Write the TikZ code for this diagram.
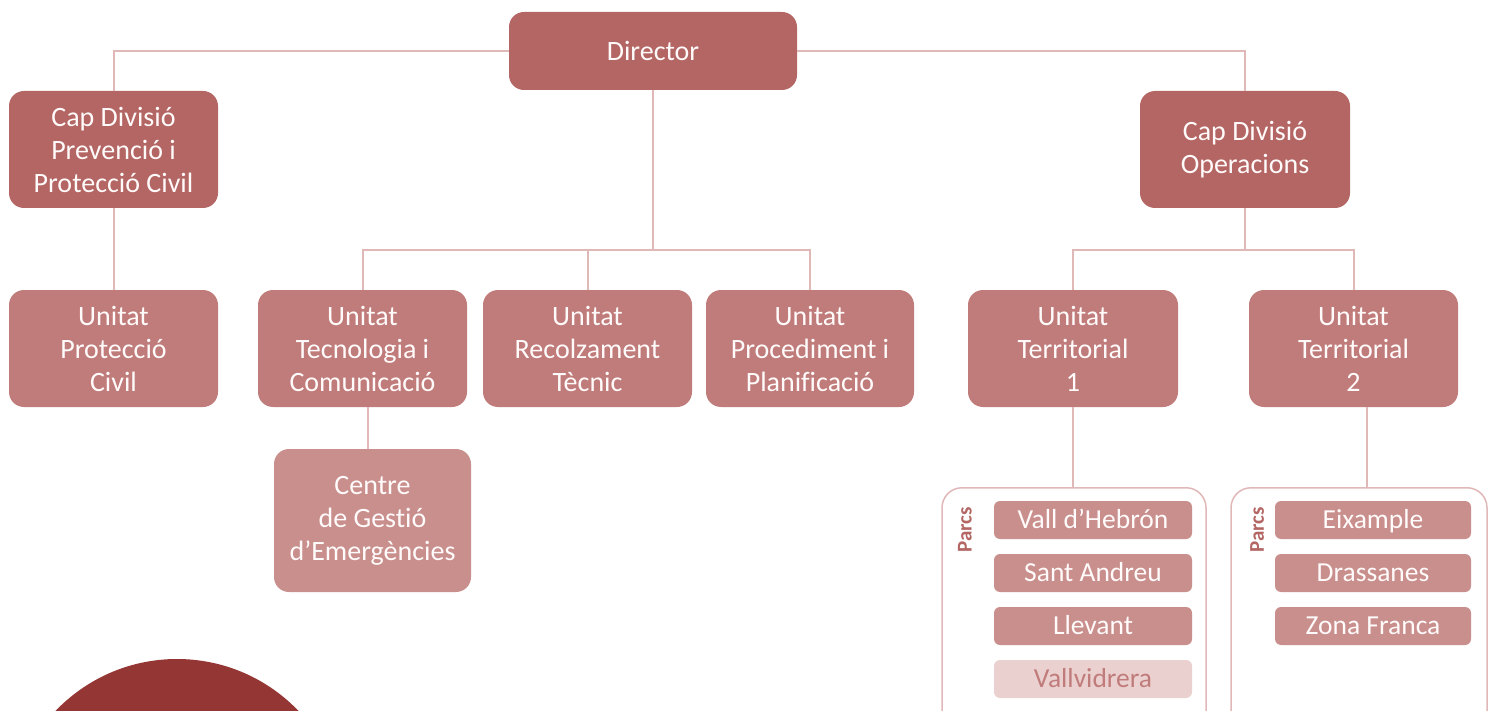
\documentclass[tikz,border=0pt]{standalone}
\usepackage{fontspec}
\setmainfont{Carlito}[Ligatures=NoCommon]
\begin{document}
\begin{tikzpicture}[x=1pt,y=-1pt,
  box/.style={rectangle, rounded corners=15pt, text=white!93!pink, align=center,
    font=\fontsize{28}{33}\selectfont, inner sep=0pt},
  topbox/.style={box, fill=capcol},
  unitbox/.style={box, fill=unitcol},
  centbox/.style={box, fill=centcol},
  parcbox/.style={rectangle, rounded corners=6pt, fill=centcol, text=white!93!pink,
    minimum height=38pt, text height=21pt, text depth=5pt,
    font=\fontsize{27.5}{30}\selectfont, inner sep=0pt},
  parcoff/.style={parcbox, fill=offcol, text=unitcol},
  cont/.style={draw=linecol, line width=1.5pt, fill=white, rounded corners=20pt},
  conn/.style={draw=linecol, line width=2pt},
  parcs/.style={rotate=90, text=capcol, font=\fontsize{21}{21}\selectfont\bfseries, inner sep=0pt}
]
\definecolor{capcol}{RGB}{179,102,99}
\definecolor{unitcol}{RGB}{192,124,122}
\definecolor{centcol}{RGB}{201,143,141}
\definecolor{offcol}{RGB}{235,208,208}
\definecolor{linecol}{RGB}{224,184,184}
\definecolor{circcol}{RGB}{148,54,52}
\useasboundingbox (0,0) rectangle (1493,711);
\clip (0,0) rectangle (1493,711);

% nodes
\node[topbox, minimum width=288pt, minimum height=78pt] (dir) at (653,51) {Director};
\node[topbox, minimum width=209pt, minimum height=117pt] (capP) at (113.5,149.5) {Cap Divisió\\Prevenció i\\Protecció Civil};
\node[topbox, minimum width=210pt, minimum height=117pt] (capO) at (1245,149.5) {Cap Divisió\\Operacions};

\node[unitbox, minimum width=209pt, minimum height=117pt] (uprot) at (113.5,348.5) {Unitat\\Protecció\\Civil};
\node[unitbox, minimum width=209pt, minimum height=117pt] (utec) at (362.5,348.5) {Unitat\\Tecnologia i\\Comunicació};
\node[unitbox, minimum width=209pt, minimum height=117pt] (urec) at (587.5,348.5) {Unitat\\Recolzament\\Tècnic};
\node[unitbox, minimum width=208pt, minimum height=117pt] (uproc) at (810,348.5) {Unitat\\Procediment i\\Planificació};
\node[unitbox, minimum width=210pt, minimum height=117pt] (ut1) at (1073,348.5) {Unitat\\Territorial\\1};
\node[unitbox, minimum width=209pt, minimum height=117pt] (ut2) at (1353.5,348.5) {Unitat\\Territorial\\2};

\node[centbox, minimum width=197pt, minimum height=143pt] (cgs) at (372.5,520.5) {Centre\\de Gestió\\d’Emergències};

% containers
\node[cont, minimum width=264pt, minimum height=250pt, anchor=north] (c1) at (1074,487) {};
\node[cont, minimum width=256pt, minimum height=250pt, anchor=north] (c2) at (1359,487) {};

\node[parcs] (p1) at (965,530) {Parcs};
\node[parcs] (p2) at (1257,530) {Parcs};

\node[parcbox, minimum width=198pt] (vh) at (1093,520) {Vall d’Hebrón};
\node[parcbox, minimum width=198pt] (sa) at (1093,573) {Sant Andreu};
\node[parcbox, minimum width=198pt] (ll) at (1093,626) {Llevant};
\node[parcoff, minimum width=198pt] (vv) at (1093,679) {Vallvidrera};

\node[parcbox, minimum width=196pt] (ei) at (1373,520) {Eixample};
\node[parcbox, minimum width=196pt] (dr) at (1373,573) {Drassanes};
\node[parcbox, minimum width=196pt] (zf) at (1373,626) {Zona Franca};

% circle
\fill[circcol] (177,827) circle (168);

% connectors
\coordinate (j1) at (653,250);
\coordinate (j2) at (1245,250);
\path[conn] (capP.north) |- (dir.west);
\path[conn] (capO.north) |- (dir.east);
\path[conn] (dir.south) -- (j1);
\path[conn] (utec.north) |- (j1) -| (uproc.north);
\path[conn] (urec.north) -- (urec.north |- j1);
\path[conn] (capP.south) -- (uprot.north);
\path[conn] (capO.south) -- (j2);
\path[conn] (ut1.north) |- (j2) -| (ut2.north);
\path[conn] ([xshift=5pt]utec.south) -- ([xshift=5pt]utec.south |- cgs.north);
\path[conn] (ut1.south) -- (ut1.south |- c1.north);
\path[conn] ([xshift=13.5pt]ut2.south) -- ([xshift=13.5pt]ut2.south |- c2.north);
\end{tikzpicture}
\end{document}
